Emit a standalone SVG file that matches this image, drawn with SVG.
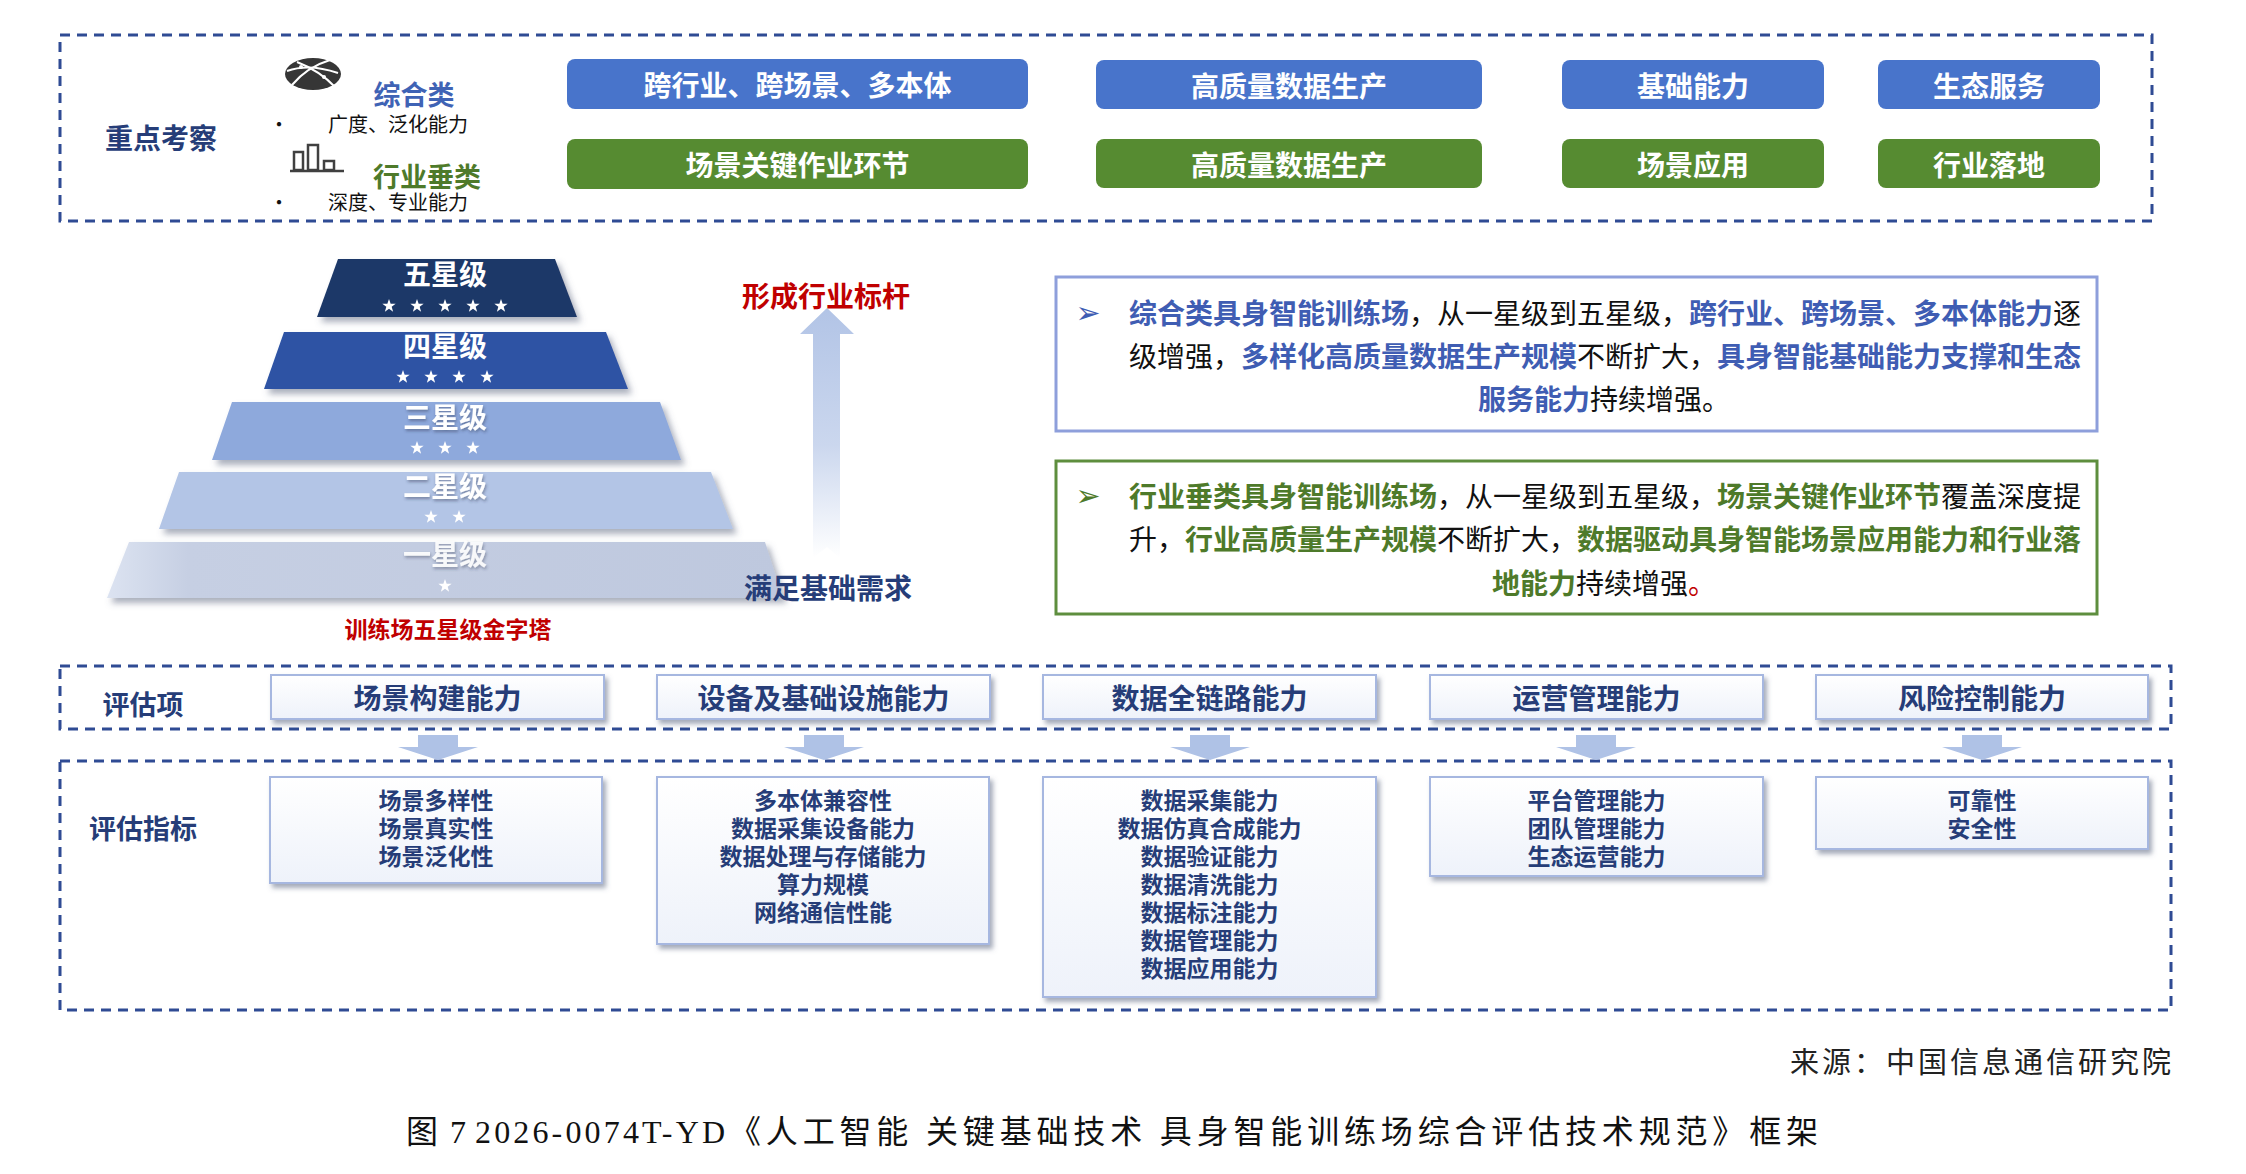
<svg xmlns="http://www.w3.org/2000/svg" width="2246" height="1174" viewBox="0 0 2246 1174">
<defs>
<style>
.cjk{font-family:"Noto Sans CJK SC","Noto Sans",sans-serif}
.b{font-weight:700}
.dash{fill:none;stroke:#2F4B94;stroke-width:3;stroke-dasharray:10 7}
.btnB{fill:#4874CB}
.btnG{fill:#568B31}
.btxt{font-family:"Noto Sans CJK SC",sans-serif;font-weight:700;font-size:28px;fill:#fff;text-anchor:middle;dominant-baseline:central}
.navy{fill:#263D78}
.hbox{fill:url(#hg);stroke:#A6B7E0;stroke-width:2}
.htxt{font-family:"Noto Sans CJK SC",sans-serif;font-weight:700;font-size:28px;fill:#263D78;text-anchor:middle;dominant-baseline:central}
.itxt{font-family:"Noto Sans CJK SC",sans-serif;font-weight:700;font-size:23px;fill:#263D78;text-anchor:middle;dominant-baseline:central}
.darr{fill:#AFC2E6}
.ptxt{font-family:"Noto Sans CJK SC",sans-serif;font-weight:700;font-size:28px;fill:#fff;text-anchor:middle;dominant-baseline:central}
.star{fill:#fff}
.para{font-family:"Noto Sans CJK SC",sans-serif;font-size:28px;dominant-baseline:central;fill:#111}
.kb{font-weight:700;fill:#3F5DB3}
.kg{font-weight:700;fill:#4E7A2A}
</style>
<linearGradient id="hg" x1="0" y1="0" x2="0" y2="1"><stop offset="0" stop-color="#FFFFFF"/><stop offset="1" stop-color="#EEF2FA"/></linearGradient>
<linearGradient id="ag" x1="0" y1="0" x2="0" y2="1"><stop offset="0" stop-color="#B2C4E6"/><stop offset="0.55" stop-color="#CBD7EE"/><stop offset="1" stop-color="#FFFFFF"/></linearGradient>
<linearGradient id="l1g" x1="0" y1="0" x2="1" y2="0"><stop offset="0" stop-color="#DCE3F1"/><stop offset="0.12" stop-color="#C6CFE3"/><stop offset="1" stop-color="#BEC8DE"/></linearGradient>
<filter id="sh" x="-5%" y="-20%" width="115%" height="150%"><feDropShadow dx="3" dy="4" stdDeviation="2.5" flood-color="#5A6480" flood-opacity="0.55"/></filter>
<filter id="psh" x="-5%" y="-20%" width="115%" height="150%"><feDropShadow dx="4" dy="5" stdDeviation="3" flood-color="#56607A" flood-opacity="0.5"/></filter>
<filter id="tsh" x="-10%" y="-20%" width="130%" height="150%"><feDropShadow dx="1" dy="2" stdDeviation="1.5" flood-color="#2A3550" flood-opacity="0.45"/></filter>
<path id="st" d="M0,-7 L1.65,-2.27 L6.66,-2.16 L2.67,0.87 L4.11,5.66 L0,2.8 L-4.11,5.66 L-2.67,0.87 L-6.66,-2.16 L-1.65,-2.27 Z"/>
</defs>
<rect x="0" y="0" width="2246" height="1174" fill="#FFFFFF"/>

<!-- Top focus section -->
<g id="focus">
<rect class="dash" x="60" y="35" width="2092" height="186"/>
<text class="cjk b navy" x="161" y="137" font-size="28" text-anchor="middle" dominant-baseline="central">重点考察</text>
<g id="icon-globe">
<ellipse cx="313" cy="74" rx="28" ry="16" fill="#363636"/>
<path d="M287,71 Q309,63 338,73" fill="none" stroke="#fff" stroke-width="2"/>
<path d="M292,85 Q307,67 330,60" fill="none" stroke="#fff" stroke-width="2"/>
<path d="M297,62 Q320,71 335,87" fill="none" stroke="#fff" stroke-width="2"/>
<circle cx="301" cy="67" r="2" fill="#fff"/>
<circle cx="324" cy="77" r="2" fill="#fff"/>
</g>
<text class="cjk b" x="414" y="93" font-size="27" fill="#3F63B5" text-anchor="middle" dominant-baseline="central">综合类</text>
<text class="cjk" x="279" y="123" font-size="20" fill="#111" text-anchor="middle" dominant-baseline="central">•</text>
<text class="cjk" x="398" y="123" font-size="20" fill="#111" text-anchor="middle" dominant-baseline="central">广度、泛化能力</text>
<g id="icon-bars" fill="none" stroke="#404040" stroke-width="2.5">
<rect x="294" y="152" width="9" height="18"/>
<rect x="308" y="145" width="10" height="25"/>
<rect x="324" y="161" width="10" height="9"/>
<line x1="290" y1="171" x2="344" y2="171"/>
</g>
<text class="cjk b" x="427" y="175" font-size="27" fill="#4E7A2A" text-anchor="middle" dominant-baseline="central">行业垂类</text>
<text class="cjk" x="279" y="201" font-size="20" fill="#111" text-anchor="middle" dominant-baseline="central">•</text>
<text class="cjk" x="398" y="201" font-size="20" fill="#111" text-anchor="middle" dominant-baseline="central">深度、专业能力</text>
</g>
<g id="focus-blue">
<rect class="btnB" x="567" y="59" width="461" height="50" rx="8"/>
<text class="btxt" x="797.5" y="84">跨行业、跨场景、多本体</text>
<rect class="btnB" x="1096" y="60" width="386" height="49" rx="8"/>
<text class="btxt" x="1289" y="84.5">高质量数据生产</text>
<rect class="btnB" x="1562" y="60" width="262" height="49" rx="8"/>
<text class="btxt" x="1693" y="84.5">基础能力</text>
<rect class="btnB" x="1878" y="60" width="222" height="49" rx="8"/>
<text class="btxt" x="1989" y="84.5">生态服务</text>
</g>
<g id="focus-green">
<rect class="btnG" x="567" y="139" width="461" height="50" rx="8"/>
<text class="btxt" x="797.5" y="164">场景关键作业环节</text>
<rect class="btnG" x="1096" y="139" width="386" height="49" rx="8"/>
<text class="btxt" x="1289" y="163.5">高质量数据生产</text>
<rect class="btnG" x="1562" y="139" width="262" height="49" rx="8"/>
<text class="btxt" x="1693" y="163.5">场景应用</text>
<rect class="btnG" x="1878" y="139" width="222" height="49" rx="8"/>
<text class="btxt" x="1989" y="163.5">行业落地</text>
</g>

<!-- Pyramid -->
<g id="pyramid">
<g id="level1">
<polygon points="129,542 765,542 783,598 107,598" fill="url(#l1g)" filter="url(#psh)"/>
<text class="ptxt" x="445" y="553" filter="url(#tsh)" fill-opacity="0.9">一星级</text>
<use href="#st" x="445" y="586" class="star"/>
</g>
<g id="level2">
<polygon points="179,472 711,472 733,529 159,529" fill="#B3C5E6" filter="url(#psh)"/>
<text class="ptxt" x="445" y="485" filter="url(#tsh)">二星级</text>
<use href="#st" x="431" y="517" class="star"/><use href="#st" x="459" y="517" class="star"/>
</g>
<g id="level3">
<polygon points="232,402 660,402 681,460 212,460" fill="#8EA9DC" filter="url(#psh)"/>
<text class="ptxt" x="445" y="416" filter="url(#tsh)">三星级</text>
<use href="#st" x="417" y="448" class="star"/><use href="#st" x="445" y="448" class="star"/><use href="#st" x="473" y="448" class="star"/>
</g>
<g id="level4">
<polygon points="284,332 606,332 628,389 264,389" fill="#2D53A4" filter="url(#psh)"/>
<text class="ptxt" x="445" y="345">四星级</text>
<use href="#st" x="403" y="377" class="star"/><use href="#st" x="431" y="377" class="star"/><use href="#st" x="459" y="377" class="star"/><use href="#st" x="487" y="377" class="star"/>
</g>
<g id="level5">
<polygon points="338,259 555,259 577,317 317,317" fill="#1F3868" filter="url(#psh)"/>
<text class="ptxt" x="445" y="273">五星级</text>
<use href="#st" x="389" y="306" class="star"/><use href="#st" x="417" y="306" class="star"/><use href="#st" x="445" y="306" class="star"/><use href="#st" x="473" y="306" class="star"/><use href="#st" x="501" y="306" class="star"/>
</g>
<text class="cjk b" x="448" y="628" font-size="23" fill="#C00000" text-anchor="middle" dominant-baseline="central">训练场五星级金字塔</text>
</g>

<g id="growth-arrow">
<path d="M827,308 L854,334 L840,334 L840,558 L827,547 L813,558 L813,334 L800,334 Z" fill="url(#ag)"/>
<text class="cjk b" x="826" y="295" font-size="28" fill="#C00000" text-anchor="middle" dominant-baseline="central">形成行业标杆</text>
<text class="cjk b" x="828" y="587" font-size="28" fill="#263D78" text-anchor="middle" dominant-baseline="central">满足基础需求</text>
</g>

<!-- Description boxes -->
<g id="desc-comprehensive">
<rect x="1056" y="277" width="1041" height="154" fill="#fff" stroke="#8E9FDB" stroke-width="3"/>
<text x="1088" y="312" font-family="DejaVu Sans,sans-serif" font-size="30" fill="#3F5DB3" text-anchor="middle" dominant-baseline="central">➢</text>
<text class="para" x="1129" y="312"><tspan class="kb">综合类具身智能训练场</tspan>，从一星级到五星级，<tspan class="kb">跨行业、跨场景、多本体能力</tspan>逐</text>
<text class="para" x="1129" y="355">级增强，<tspan class="kb">多样化高质量数据生产规模</tspan>不断扩大，<tspan class="kb">具身智能基础能力支撑和生态</tspan></text>
<text class="para" x="1478" y="398"><tspan class="kb">服务能力</tspan>持续增强。</text>
</g>
<g id="desc-industry">
<rect x="1056" y="461" width="1041" height="153" fill="#fff" stroke="#5E8E3E" stroke-width="3"/>
<text x="1088" y="495" font-family="DejaVu Sans,sans-serif" font-size="30" fill="#4E7A2A" text-anchor="middle" dominant-baseline="central">➢</text>
<text class="para" x="1129" y="495"><tspan class="kg">行业垂类具身智能训练场</tspan>，从一星级到五星级，<tspan class="kg">场景关键作业环节</tspan>覆盖深度提</text>
<text class="para" x="1129" y="538">升，<tspan class="kg">行业高质量生产规模</tspan>不断扩大，<tspan class="kg">数据驱动具身智能场景应用能力和行业落</tspan></text>
<text class="para" x="1492" y="582"><tspan class="kg">地能力</tspan>持续增强<tspan fill="#C00000">。</tspan></text>
</g>

<!-- Evaluation section -->
<g id="eval-frames">
<rect class="dash" x="60" y="666" width="2111" height="63"/>
<rect class="dash" x="60" y="761" width="2111" height="249"/>
<text class="cjk b navy" x="143" y="703" font-size="27" text-anchor="middle" dominant-baseline="central">评估项</text>
<text class="cjk b navy" x="143" y="827" font-size="27" text-anchor="middle" dominant-baseline="central">评估指标</text>
</g>

<g id="connectors">
<polygon class="darr" points="418,735 458,735 458,747 478,747 438,760 398,747 418,747"/>
<polygon class="darr" points="804,735 844,735 844,747 864,747 824,760 784,747 804,747"/>
<polygon class="darr" points="1190,735 1230,735 1230,747 1250,747 1210,760 1170,747 1190,747"/>
<polygon class="darr" points="1576,735 1616,735 1616,747 1636,747 1596,760 1556,747 1576,747"/>
<polygon class="darr" points="1962,735 2002,735 2002,747 2022,747 1982,760 1942,747 1962,747"/>
</g>

<g id="item-scene">
<rect class="hbox" x="271" y="675" width="333" height="44" filter="url(#sh)"/>
<text class="htxt" x="437.5" y="697">场景构建能力</text>
</g>
<g id="item-device">
<rect class="hbox" x="657" y="675" width="333" height="44" filter="url(#sh)"/>
<text class="htxt" x="823.5" y="697">设备及基础设施能力</text>
</g>
<g id="item-data">
<rect class="hbox" x="1043" y="675" width="333" height="44" filter="url(#sh)"/>
<text class="htxt" x="1209.5" y="697">数据全链路能力</text>
</g>
<g id="item-ops">
<rect class="hbox" x="1430" y="675" width="333" height="44" filter="url(#sh)"/>
<text class="htxt" x="1596.5" y="697">运营管理能力</text>
</g>
<g id="item-risk">
<rect class="hbox" x="1816" y="675" width="332" height="44" filter="url(#sh)"/>
<text class="htxt" x="1982" y="697">风险控制能力</text>
</g>

<g id="ind-scene">
<rect class="hbox" x="270" y="777" width="332" height="106" filter="url(#sh)"/>
<text class="itxt" x="436" y="799">场景多样性</text>
<text class="itxt" x="436" y="827">场景真实性</text>
<text class="itxt" x="436" y="855">场景泛化性</text>
</g>
<g id="ind-device">
<rect class="hbox" x="657" y="777" width="332" height="167" filter="url(#sh)"/>
<text class="itxt" x="823" y="799">多本体兼容性</text>
<text class="itxt" x="823" y="827">数据采集设备能力</text>
<text class="itxt" x="823" y="855">数据处理与存储能力</text>
<text class="itxt" x="823" y="883">算力规模</text>
<text class="itxt" x="823" y="911">网络通信性能</text>
</g>
<g id="ind-data">
<rect class="hbox" x="1043" y="777" width="333" height="220" filter="url(#sh)"/>
<text class="itxt" x="1209.5" y="799">数据采集能力</text>
<text class="itxt" x="1209.5" y="827">数据仿真合成能力</text>
<text class="itxt" x="1209.5" y="855">数据验证能力</text>
<text class="itxt" x="1209.5" y="883">数据清洗能力</text>
<text class="itxt" x="1209.5" y="911">数据标注能力</text>
<text class="itxt" x="1209.5" y="939">数据管理能力</text>
<text class="itxt" x="1209.5" y="967">数据应用能力</text>
</g>
<g id="ind-ops">
<rect class="hbox" x="1430" y="777" width="333" height="99" filter="url(#sh)"/>
<text class="itxt" x="1596.5" y="799">平台管理能力</text>
<text class="itxt" x="1596.5" y="827">团队管理能力</text>
<text class="itxt" x="1596.5" y="855">生态运营能力</text>
</g>
<g id="ind-risk">
<rect class="hbox" x="1816" y="777" width="332" height="72" filter="url(#sh)"/>
<text class="itxt" x="1982" y="799">可靠性</text>
<text class="itxt" x="1982" y="827">安全性</text>
</g>

<g id="footer">
<text x="1790" y="1063" font-family="Liberation Serif,Noto Sans CJK SC,serif" font-size="29" fill="#222" dominant-baseline="central" textLength="381" lengthAdjust="spacing">来源：中国信息通信研究院</text>
<text y="1132" font-family="Liberation Serif,Noto Sans CJK SC,serif" font-size="32" fill="#111" dominant-baseline="central"><tspan x="406">图</tspan><tspan x="450">7</tspan><tspan x="475" textLength="250" lengthAdjust="spacing">2026-0074T-YD</tspan><tspan x="729" textLength="1089" lengthAdjust="spacing">《人工智能 关键基础技术 具身智能训练场综合评估技术规范》框架</tspan></text>
</g>
</svg>
